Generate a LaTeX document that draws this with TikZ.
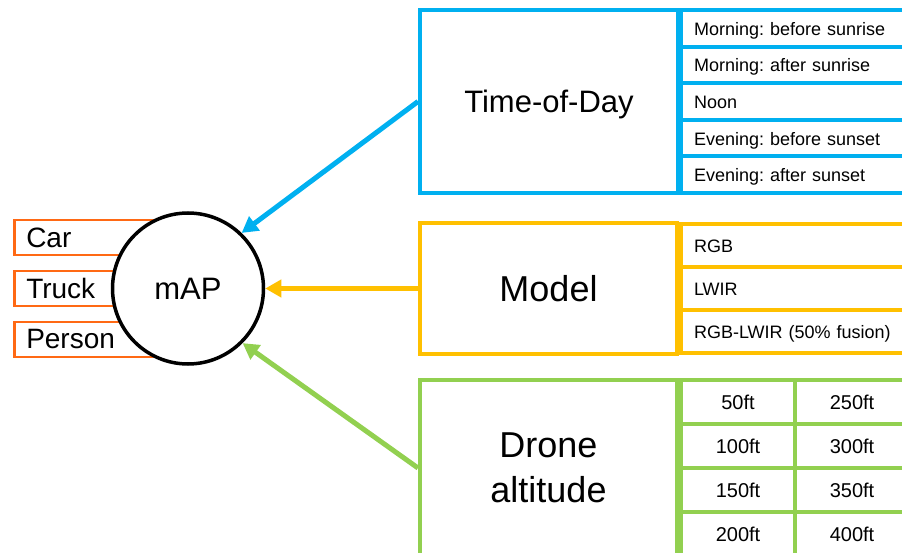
\documentclass[tikz,border=0pt]{standalone}
\usepackage{fontspec}
\setmainfont{Liberation Sans}
\usepackage{xcolor}
\usetikzlibrary{arrows.meta}
\frenchspacing
\definecolor{todblue}{HTML}{00B0F0}
\definecolor{modgold}{HTML}{FFC000}
\definecolor{altgreen}{HTML}{92D050}
\definecolor{clsorange}{RGB}{255,105,20}
\tikzset{
  factor/.style  = {draw=#1, line width=4pt, rectangle, inner sep=0pt, align=center},
  cell/.style    = {draw=#1, line width=4pt, rectangle, anchor=west, inner xsep=13pt,
                    inner ysep=0pt, text width=204pt, text height=17pt, text depth=3pt,
                    align=left, font=\fontsize{18}{22}\selectfont},
  altcell/.style = {draw=altgreen, line width=4pt, rectangle, anchor=west, inner sep=0pt,
                    minimum width=114pt, minimum height=44pt, font=\fontsize{20}{24}\selectfont},
  clsbox/.style  = {draw=clsorange, line width=2.5pt, rectangle, anchor=west, inner xsep=12pt,
                    inner ysep=0pt, text width=123pt, minimum height=35pt, align=left,
                    font=\fontsize{28}{34}\selectfont},
  metric/.style  = {draw, line width=3.5pt, circle, fill=white, inner sep=0pt,
                    minimum size=151pt, font=\fontsize{31}{36}\selectfont},
  sig/.style     = {-{Triangle[length=16pt,width=17pt]}, line width=5pt, draw=#1},
}

\begin{document}
\begin{tikzpicture}[x=1pt,y=-1pt]
\useasboundingbox (0,0) rectangle (902,553);
\node[clsbox] (K1) at (13,237.5) {Car};
\node[clsbox] (K2) at (13,288.5) {Truck};
\node[clsbox] (K3) at (13,339.5) {Person};
\node[metric] (mAP) at (188,288.5) {mAP};
\node[factor=todblue,minimum width=258pt,minimum height=183pt,text height=23pt,text depth=0pt,font=\fontsize{31}{36}\selectfont] (T) at (549,101.5) {Time-of-Day};
\node[cell=todblue,minimum height=36.6pt] (T1) at (679,28.3) {Morning: before sunrise};
\node[cell=todblue,minimum height=36.6pt] (T2) at (679,64.9) {Morning: after sunrise};
\node[cell=todblue,minimum height=36.6pt] (T3) at (679,101.5) {Noon};
\node[cell=todblue,minimum height=36.6pt] (T4) at (679,138.1) {Evening: before sunset};
\node[cell=todblue,minimum height=36.6pt] (T5) at (679,174.7) {Evening: after sunset};
\node[factor=modgold,minimum width=257pt,minimum height=130pt,font=\fontsize{36}{42}\selectfont] (M) at (548.5,288.5) {Model};
\node[cell=modgold,minimum height=43.3pt] (M1) at (679,245.2) {RGB};
\node[cell=modgold,minimum height=43.3pt] (M2) at (679,288.5) {LWIR};
\node[cell=modgold,minimum height=43.3pt] (M3) at (679,331.8) {RGB-LWIR (50\% fusion)};
\node[factor=altgreen,minimum width=257pt,minimum height=176pt,font=\fontsize{36}{45}\selectfont] (A) at (548.5,468) {Drone\\altitude};
\node[altcell] (A1) at (679,402) {50ft};
\node[altcell] (A2) at (679,446) {100ft};
\node[altcell] (A3) at (679,490) {150ft};
\node[altcell] (A4) at (679,534) {200ft};
\node[altcell] (A5) at (793,402) {250ft};
\node[altcell] (A6) at (793,446) {300ft};
\node[altcell] (A7) at (793,490) {350ft};
\node[altcell] (A8) at (793,534) {400ft};
\draw[sig=todblue] (T.west) -- (mAP.46);
\draw[sig=modgold] (M.west) -- (mAP.east);
\draw[sig=altgreen] (A.west) -- (mAP.-45);
\end{tikzpicture}
\end{document}
